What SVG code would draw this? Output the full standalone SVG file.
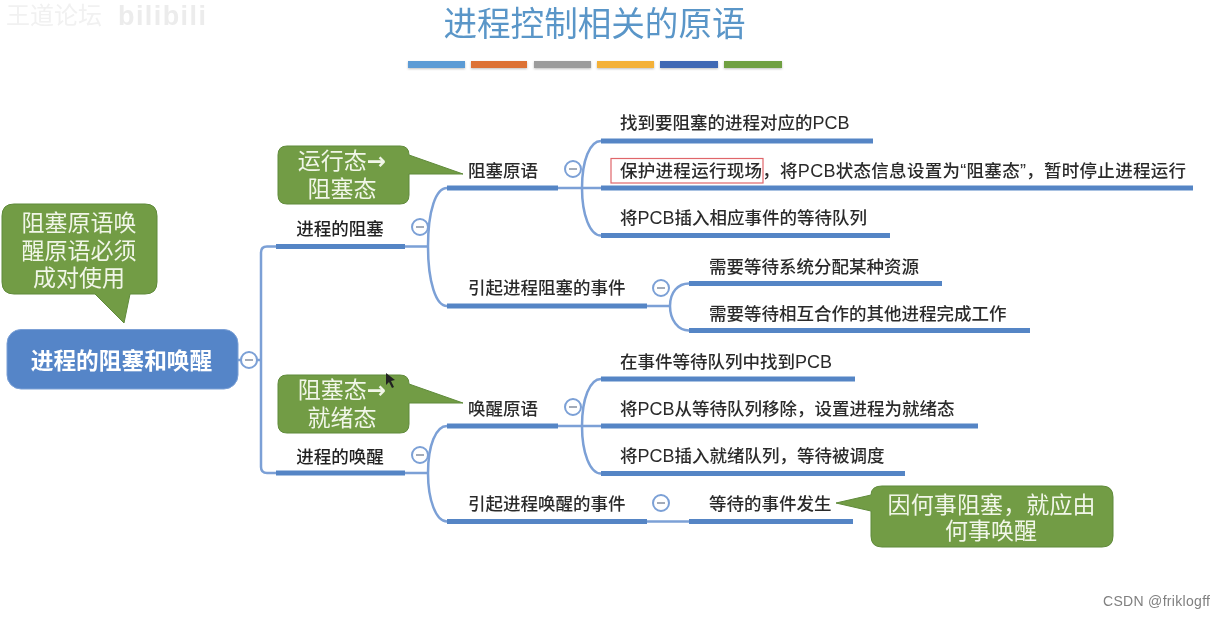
<svg xmlns="http://www.w3.org/2000/svg" width="1225" height="618" viewBox="0 0 1225 618">
<style>
text{font-family:"Noto Sans CJK SC","Liberation Sans",sans-serif}
.leaf{font-size:17.5px;fill:#2b2b2b;font-weight:500}
.lat{font-family:"Liberation Sans",sans-serif;font-size:18px}
.co{font-size:23px;fill:#f1f6e8;text-anchor:middle}
.arr{font-family:"DejaVu Sans",sans-serif;font-weight:700}
.cb{fill:#729c45;stroke:#5f8a3a;stroke-width:1}
.bar{fill:#5585c5}
.c{fill:none;stroke:#7ba0d6;stroke-width:2.5}
.circ{fill:#fff;stroke:#7ba0d6;stroke-width:2}
.min{stroke:#a3abb8;stroke-width:2}
</style>
<defs><filter id="s" x="-5%" y="-40%" width="110%" height="200%"><feDropShadow dx="0" dy="1" stdDeviation="1" flood-color="#000" flood-opacity="0.25"/></filter>
<filter id="soft" x="0" y="0" width="100%" height="100%" filterUnits="userSpaceOnUse"><feGaussianBlur stdDeviation="0.4"/></filter></defs>
<rect width="1225" height="618" fill="#fff"/>
<g filter="url(#soft)">
<g id="watermark-top"><text x="6" y="24" font-size="24" fill="#f1f1f1">王道论坛</text><text x="118" y="25" font-size="27" font-weight="700" fill="#ececec" style="font-family:'Liberation Sans',sans-serif" textLength="88">bilibili</text></g>
<g id="title"><text x="594.5" y="36" font-size="33.6" fill="#5a96c8" text-anchor="middle">进程控制相关的原语</text>
<g filter="url(#s)"><rect x="408" y="61" width="57" height="7" fill="#5b9bd5"/><rect x="471" y="61" width="56" height="7" fill="#dd7236"/><rect x="534" y="61" width="57" height="7" fill="#9c9c9c"/><rect x="597" y="61" width="57" height="7" fill="#f4b138"/><rect x="660" y="61" width="58" height="7" fill="#4069b4"/><rect x="724" y="61" width="58" height="7" fill="#70a042"/></g></g>
<g id="connectors">
<path class="c" d="M238 360H261M276 246.5H267Q261 246.5 261 252.5V467Q261 473 267 473H276"/>
<path class="c" d="M405 246.5H428M447 188C436 188 428 210 428 246.5C428 282 436 306 447 306"/>
<path class="c" d="M405 473H428M447 426C436 426 428 445 428 473C428 500 436 521.5 447 521.5"/>
<path class="c" d="M558 188H601M601 141C590 141 582 160 582 188C582 215 590 235.5 601 235.5"/>
<path class="c" d="M647 306H670M689 283.5C678 283.5 670 292 670 306C670 320 678 330.5 689 330.5"/>
<path class="c" d="M558 426H601M601 379C590 379 582 398 582 426C582 453 590 473.5 601 473.5"/>
<path class="c" d="M647 521.5H689"/>
</g>
<g id="root"><rect x="7" y="329.500" width="231" height="59.500" rx="14" fill="#5585c8" stroke="#7ba0d6"/><text x="121.500" y="369" font-size="22.700" font-weight="700" fill="#fff" text-anchor="middle">进程的阻塞和唤醒</text><circle class="circ" cx="249" cy="360" r="8"/><path class="min" d="M245 360H253"/></g>
<g id="n-block"><text x="340" y="235" font-size="17.500" font-weight="500" fill="#222" text-anchor="middle">进程的阻塞</text><rect class="bar" x="276" y="244" width="129" height="5"/><circle class="circ" cx="420" cy="227" r="8"/><path class="min" d="M416 227H424"/></g>
<g id="n-wake"><text x="340" y="463" font-size="17.500" font-weight="500" fill="#222" text-anchor="middle">进程的唤醒</text><rect class="bar" x="276" y="470.500" width="129" height="5"/><circle class="circ" cx="420" cy="455" r="8"/><path class="min" d="M416 455H424"/></g>
<g id="n-block-prim"><text class="leaf" x="468" y="177">阻塞原语</text><rect class="bar" x="447" y="185.500" width="111" height="5"/><circle class="circ" cx="573" cy="169" r="8"/><path class="min" d="M569 169H577"/></g>
<g id="n-block-event"><text class="leaf" x="468" y="294">引起进程阻塞的事件</text><rect class="bar" x="447" y="303.500" width="200" height="5"/><circle class="circ" cx="661" cy="288" r="8"/><path class="min" d="M657 288H665"/></g>
<g id="n-wake-prim"><text class="leaf" x="468" y="415">唤醒原语</text><rect class="bar" x="447" y="423.500" width="111" height="5"/><circle class="circ" cx="573" cy="407" r="8"/><path class="min" d="M569 407H577"/></g>
<g id="n-wake-event"><text class="leaf" x="468" y="510">引起进程唤醒的事件</text><rect class="bar" x="447" y="519" width="200" height="5"/><circle class="circ" cx="661" cy="503" r="8"/><path class="min" d="M657 503H665"/></g>
<g id="l1"><text class="leaf" x="620" y="129">找到要阻塞的进程对应的<tspan class="lat">PCB</tspan></text><rect class="bar" x="601" y="138.500" width="272" height="5"/></g>
<g id="l2"><text class="leaf" x="620" y="177" textLength="566">保护进程运行现场，将<tspan class="lat">PCB</tspan>状态信息设置为<tspan class="lat">“</tspan>阻塞态<tspan class="lat">”</tspan>，暂时停止进程运行</text><rect class="bar" x="601" y="185.500" width="592" height="5"/><rect x="611" y="158.500" width="152" height="24.500" fill="none" stroke="#e0666a" stroke-width="1.200"/></g>
<g id="l3"><text class="leaf" x="620" y="224">将<tspan class="lat">PCB</tspan>插入相应事件的等待队列</text><rect class="bar" x="601" y="233" width="289" height="5"/></g>
<g id="l4"><text class="leaf" x="709" y="273">需要等待系统分配某种资源</text><rect class="bar" x="689" y="281" width="253" height="5"/></g>
<g id="l5"><text class="leaf" x="709" y="320">需要等待相互合作的其他进程完成工作</text><rect class="bar" x="689" y="328" width="341" height="5"/></g>
<g id="l6"><text class="leaf" x="620" y="368">在事件等待队列中找到<tspan class="lat">PCB</tspan></text><rect class="bar" x="601" y="376.500" width="254" height="5"/></g>
<g id="l7"><text class="leaf" x="620" y="415">将<tspan class="lat">PCB</tspan>从等待队列移除，设置进程为就绪态</text><rect class="bar" x="601" y="423.500" width="377" height="5"/></g>
<g id="l8"><text class="leaf" x="620" y="462">将<tspan class="lat">PCB</tspan>插入就绪队列，等待被调度</text><rect class="bar" x="601" y="471" width="304" height="5"/></g>
<g id="l9"><text class="leaf" x="709" y="510">等待的事件发生</text><rect class="bar" x="689" y="519" width="164" height="5"/></g>
<g id="callout-run"><path class="cb" d="M287 146H400Q409 146 409 155L463 174H409V195Q409 204 400 204H287Q278 204 278 195V155Q278 146 287 146Z"/><text class="co" x="342" y="169">运行态<tspan class="arr">→</tspan></text><text class="co" x="342" y="197">阻塞态</text></g>
<g id="callout-ready"><path class="cb" d="M287 375H400Q409 375 409 384L463 403H409V424Q409 433 400 433H287Q278 433 278 424V384Q278 375 287 375Z"/><text class="co" x="342" y="398">阻塞态<tspan class="arr">→</tspan></text><text class="co" x="342" y="426">就绪态</text></g>
<g id="callout-pair"><path class="cb" d="M14 204H145Q157 204 157 216V282Q157 294 145 294H130L124 323L95 294H14Q2 294 2 282V216Q2 204 14 204Z"/><text class="co" x="79" y="231">阻塞原语唤</text><text class="co" x="79" y="259">醒原语必须</text><text class="co" x="79" y="286">成对使用</text></g>
<g id="callout-why"><path class="cb" d="M882 486H1102Q1113 486 1113 497V536Q1113 547 1102 547H882Q871 547 871 536V511L836 503L871 495Q871 486 882 486Z"/><text class="co" x="991.500" y="513" textLength="208">因何事阻塞，就应由</text><text class="co" x="991" y="539">何事唤醒</text></g>
<path id="cursor" d="M386 373V385L389 382L392 388L394 387L391 381L395 380Z" fill="#222"/>
<text id="csdn" x="1103" y="606" font-size="14" fill="#808080" style="font-family:'Liberation Sans',sans-serif" textLength="107">CSDN @friklogff</text>
</g>
</svg>
